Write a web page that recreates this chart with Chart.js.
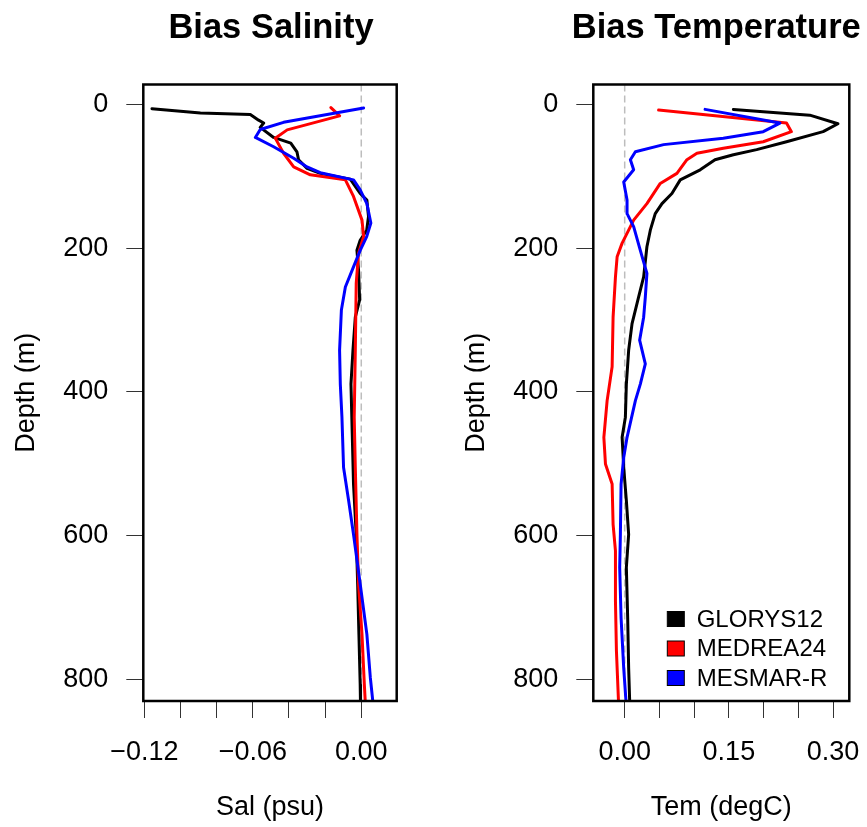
<!DOCTYPE html>
<html><head><meta charset="utf-8">
<script src="https://cdn.jsdelivr.net/npm/chart.js@4.4.1/dist/chart.umd.min.js"></script>
<style>
html,body{margin:0;padding:0;background:#fff;width:867px;height:827px;overflow:hidden;}
canvas{position:absolute;top:0;}
#cSal{left:0}
#cTem{left:440px}
</style></head><body>
<canvas id="cSal" width="440" height="827"></canvas>
<canvas id="cTem" width="427" height="827"></canvas>
<script>
const FONT = '"Liberation Sans", Arial, Helvetica, sans-serif';

const seriesNames = ['GLORYS12', 'MEDREA24', 'MESMAR-R'];
const seriesColors = ['#000000', '#ff0000', '#0000ff'];

// ---- Salinity bias (psu) vs depth (m) ----
const salDepthGlorys = [6, 12, 14, 22, 26, 32, 46, 54, 66, 77, 89, 96, 104, 124, 133, 156, 175, 189, 203, 231, 272, 296, 342, 389, 458, 528, 598, 667, 737, 807, 840];
const salGlorys = [-0.1158, -0.089, -0.0614, -0.0568, -0.054, -0.0559, -0.0485, -0.039, -0.0356, -0.0347, -0.030, -0.0227, -0.0061, -0.0006, 0.0031, 0.0040, 0.0030, -0.0006, -0.0024, -0.0015, -0.0009, -0.0033, -0.0046, -0.0057, -0.0050, -0.0043, -0.0028, -0.0020, -0.0013, -0.0006, -0.0004];

const salDepthMedrea = [4.5, 16, 35.5, 47, 68, 87, 98, 105, 128, 161, 184, 207, 249, 342, 435, 505, 598, 667, 737, 807, 840];
const salMedrea = [-0.0168, -0.012, -0.041, -0.0476, -0.043, -0.0374, -0.0282, -0.0088, -0.0043, 0.0004, 0.0013, -0.0015, -0.0028, -0.0033, -0.0039, -0.0033, -0.0024, -0.0015, 0.0004, 0.0017, 0.0024];

const salDepthMesmar = [5, 25, 35, 46, 59, 75, 87, 95, 105, 119, 138, 165, 184, 203, 226, 254, 286, 342, 389, 435, 505, 551, 598, 667, 737, 797, 840];
const salMesmar = [0.0013, -0.043, -0.0559, -0.0586, -0.0485, -0.0374, -0.030, -0.0227, -0.0043, -0.0006, 0.0031, 0.0053, 0.0030, -0.0006, -0.0043, -0.0088, -0.011, -0.012, -0.0116, -0.0107, -0.0098, -0.0070, -0.0043, -0.0006, 0.0031, 0.0050, 0.0068];

// ---- Temperature bias (degC) vs depth (m) ----
const temDepthGlorys = [7, 15, 27, 38, 52, 63, 70, 77, 91, 105, 124, 138, 152, 175, 198, 240, 268, 305, 342, 389, 435, 463, 505, 551, 598, 644, 714, 784, 840];
const temGlorys = [0.1565, 0.2665, 0.307, 0.2857, 0.233, 0.190, 0.1565, 0.130, 0.1087, 0.080, 0.068, 0.0537, 0.044, 0.0369, 0.032, 0.0273, 0.020, 0.0106, 0.0057, 0.0024, 0.0010, -0.0037, -0.0014, 0.0024, 0.0057, 0.0024, 0.0043, 0.0057, 0.0075];

const temDepthMedrea = [8, 26, 38, 52, 61, 68, 77, 96, 110, 138, 161, 193, 212, 240, 296, 365, 412, 463, 500, 528, 584, 621, 691, 760, 840];
const temMedrea = [0.0488, 0.233, 0.240, 0.1995, 0.142, 0.104, 0.0896, 0.0752, 0.0512, 0.032, 0.0129, -0.0037, -0.0109, -0.0133, -0.0167, -0.0181, -0.0253, -0.030, -0.0277, -0.0181, -0.0167, -0.0133, -0.0133, -0.0119, -0.0085];

const temDepthMesmar = [7, 26, 38, 47, 56, 66, 77, 91, 108, 133, 152, 170, 203, 235, 268, 296, 328, 361, 389, 412, 463, 491, 528, 598, 644, 714, 784, 840];
const temMesmar = [0.1158, 0.2235, 0.1995, 0.142, 0.056, 0.0154, 0.0082, 0.0129, -0.0014, 0.0034, 0.0034, 0.0129, 0.0225, 0.032, 0.0297, 0.0273, 0.0215, 0.0297, 0.0225, 0.0154, 0.0034, -0.0014, -0.0052, -0.0062, -0.0072, -0.0052, -0.0014, 0.0026];

// ---- Ticks ----
const depthTicks = [0, 200, 400, 600, 800];
const depthTickLabels = ['0', '200', '400', '600', '800'];
const salTicks = [-0.12, -0.10, -0.08, -0.06, -0.04, -0.02, 0.00];
const salTickLabels = ['\u22120.12', '', '', '\u22120.06', '', '', '0.00'];
const temTicks = [0, 0.05, 0.10, 0.15, 0.20, 0.25, 0.30];
const temTickLabels = ['0.00', '', '', '0.15', '', '', '0.30'];

function toPoints(depths, vals) { return depths.map((d, k) => ({ x: vals[k], y: d })); }

const framePlugin = {
  id: 'frame',
  beforeDraw(chart, args, opts) {
    // let the title use more room than the plot box (like the reference)
    const t = chart.titleBlock, a = chart.chartArea;
    if (t && a) {
      const c = (a.left + a.right) / 2 + (opts.titleShift || 0);
      t.left = c - 200;
      t.right = c + 200;
      t.width = 400;
    }
  },
  beforeDatasetsDraw(chart) {
    const { ctx, chartArea: a } = chart;
    const px = chart.scales.x.getPixelForValue(0);
    ctx.save();
    ctx.strokeStyle = '#bdbdbd';
    ctx.lineWidth = 1.5;
    ctx.setLineDash([7, 4]);
    ctx.beginPath();
    ctx.moveTo(px, a.top);
    ctx.lineTo(px, a.bottom);
    ctx.stroke();
    ctx.restore();
  },
  afterDatasetsDraw(chart) {
    const { ctx, chartArea: a } = chart;
    ctx.save();
    ctx.strokeStyle = '#000';
    ctx.lineWidth = 2.5;
    ctx.strokeRect(a.left, a.top, a.right - a.left, a.bottom - a.top);
    ctx.restore();
  }
};

const legendPlugin = {
  id: 'refLegend',
  afterDraw(chart, args, opts) {
    if (!opts.show) return;
    const { ctx, chartArea: a } = chart;
    ctx.save();
    ctx.font = '24px ' + FONT;
    ctx.textBaseline = 'middle';
    ctx.textAlign = 'left';
    const order = [2, 1, 0];
    order.forEach((di, row) => {
      const ds = chart.data.datasets[di];
      const cy = a.bottom - 82 + row * 29.5;
      ctx.fillStyle = ds.borderColor;
      ctx.fillRect(a.right - 182, cy - 7.5, 17, 15);
      ctx.strokeStyle = '#000';
      ctx.lineWidth = 1;
      ctx.strokeRect(a.right - 182, cy - 7.5, 17, 15);
      ctx.fillStyle = '#000';
      ctx.fillText(ds.label, a.right - 152.6, cy + 1);
    });
    ctx.restore();
  }
};

function makeChart(id, cfg) {
  const series = cfg.series;
  // draw order: black first, red, blue on top
  const datasets = [2, 1, 0].map(i => ({
    label: seriesNames[i],
    data: toPoints(series[i].depth, series[i].vals),
    borderColor: seriesColors[i],
    backgroundColor: seriesColors[i],
    showLine: true,
    pointRadius: 0,
    pointHoverRadius: 0,
    borderWidth: 3,
    borderJoinStyle: 'round',
    borderCapStyle: 'round',
    tension: 0
  }));
  return new Chart(document.getElementById(id), {
    type: 'scatter',
    data: { datasets },
    options: {
      responsive: false,
      animation: false,
      events: [],
      layout: { padding: { left: 0, top: 0, right: cfg.padRight, bottom: 0 } },
      plugins: {
        legend: { display: false },
        tooltip: { enabled: false },
        title: {
          display: true, text: cfg.title, fullSize: false, color: '#000',
          font: { family: FONT, size: 34.5, weight: 'bold' },
          padding: { top: 7.5, bottom: 35.6 }
        },
        frame: { titleShift: cfg.titleShift },
        refLegend: { show: cfg.legend }
      },
      scales: {
        x: {
          type: 'linear', position: 'bottom', min: cfg.xMin, max: cfg.xMax,
          afterBuildTicks: s => { s.ticks = cfg.xTicks.map(v => ({ value: v })); },
          afterFit: s => { s.height = 126; s.paddingLeft = 0; s.paddingRight = 0; },
          ticks: {
            autoSkip: false, maxRotation: 0, minRotation: 0, padding: 18, color: '#000',
            font: { family: FONT, size: 27 },
            callback: (v, i) => cfg.xLabels[i]
          },
          grid: { display: true, drawOnChartArea: false, drawTicks: true, tickLength: 17, color: '#333', lineWidth: 1 },
          border: { display: false },
          title: { display: true, text: cfg.xTitle, color: '#000', font: { family: FONT, size: 27 }, padding: { top: 0, bottom: 3 } }
        },
        y: {
          type: 'linear', position: 'left', reverse: true, min: -27.6, max: 829.7,
          afterBuildTicks: s => { s.ticks = depthTicks.map(v => ({ value: v })); },
          afterFit: s => { s.width = cfg.yWidth; s.paddingTop = 0; s.paddingBottom = 0; },
          ticks: {
            autoSkip: false, padding: 18, color: '#000',
            font: { family: FONT, size: 27 },
            callback: (v, i) => depthTickLabels[i]
          },
          grid: { display: true, drawOnChartArea: false, drawTicks: true, tickLength: 17, color: '#333', lineWidth: 1 },
          border: { display: false },
          title: { display: true, text: 'Depth (m)', color: '#000', font: { family: FONT, size: 27 }, padding: { top: cfg.yTitlePad, bottom: 0 } }
        }
      }
    },
    plugins: [framePlugin, legendPlugin]
  });
}

makeChart('cSal', {
  title: 'Bias Salinity',
  xTitle: 'Sal (psu)',
  xMin: -0.1206, xMax: 0.0196,
  xTicks: salTicks, xLabels: salTickLabels,
  yWidth: 143.3, padRight: 43.3, yTitlePad: 10, titleShift: 1,
  legend: false,
  series: [
    { depth: salDepthGlorys, vals: salGlorys },
    { depth: salDepthMedrea, vals: salMedrea },
    { depth: salDepthMesmar, vals: salMesmar }
  ]
});

makeChart('cTem', {
  title: 'Bias Temperature',
  xTitle: 'Tem (degC)',
  xMin: -0.0452, xMax: 0.3234,
  xTicks: temTicks, xLabels: temTickLabels,
  yWidth: 153.3, padRight: 17.7, yTitlePad: 20, titleShift: -5,
  legend: true,
  series: [
    { depth: temDepthGlorys, vals: temGlorys },
    { depth: temDepthMedrea, vals: temMedrea },
    { depth: temDepthMesmar, vals: temMesmar }
  ]
});
</script>
</body></html>
